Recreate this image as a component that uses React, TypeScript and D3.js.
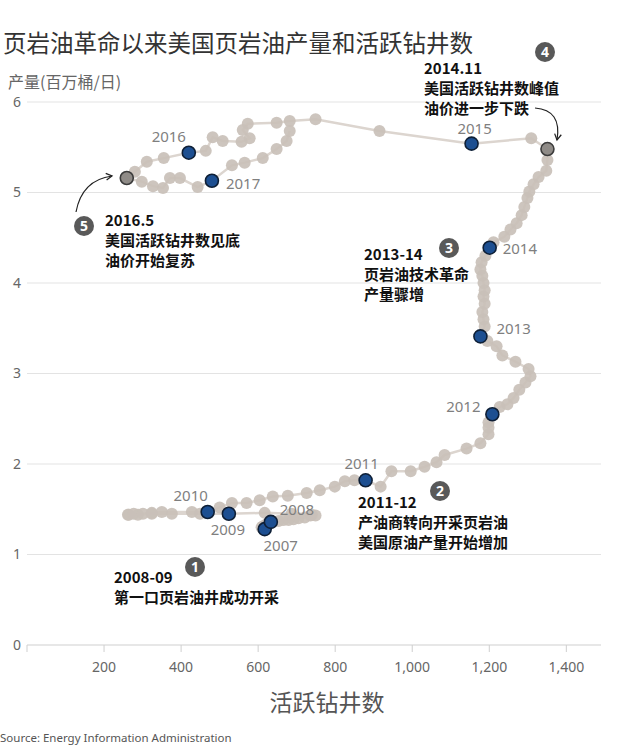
import React from "react";
import * as d3 from "d3";

// Monthly path of active shale rigs vs shale oil production (2007 -> 2017)
const rigs = [
  // 2007
  617, 615, 612, 609, 612, 617, 620, 622, 625, 625, 627, 630,
  // 2008
  633, 653, 666, 679, 692, 705, 721, 736, 749, 739, 687, 617,
  // 2009
  524, 449, 376, 324, 288, 264, 262, 277, 301, 324, 350, 428,
  // 2010
  469, 500, 532, 570, 604, 638, 677, 726, 760, 799, 825, 850,
  // 2011
  879, 918, 946, 996, 1032, 1063, 1084, 1141, 1177, 1198, 1198, 1198,
  // 2012
  1208, 1227, 1247, 1263, 1278, 1294, 1307, 1302, 1268, 1234, 1219, 1195,
  // 2013
  1177, 1188, 1185, 1182, 1188, 1185, 1188, 1185, 1182, 1177, 1180, 1190,
  // 2014
  1201, 1211, 1239, 1255, 1271, 1284, 1291, 1299, 1304, 1315, 1328, 1348, 1351, 1351, 1309,
  // 2015
  1154, 915, 749, 682, 648, 573, 560, 578, 557, 508, 482, 464,
  // 2016
  420, 355, 311, 280, 259, 298, 327, 353, 371, 397, 443,
  // 2017
  480, 532, 565, 612, 648, 674, 682,
];
const production = [
  1.28, 1.29, 1.3, 1.3, 1.31, 1.31, 1.33, 1.33, 1.34, 1.34, 1.35, 1.35,
  1.36, 1.37, 1.38, 1.38, 1.39, 1.4, 1.41, 1.43, 1.43, 1.44, 1.45, 1.46,
  1.45, 1.45, 1.45, 1.45, 1.44, 1.44, 1.44, 1.45, 1.45, 1.46, 1.47, 1.47,
  1.47, 1.52, 1.57, 1.57, 1.6, 1.64, 1.65, 1.68, 1.71, 1.75, 1.81, 1.82,
  1.82, 1.75, 1.92, 1.92, 1.97, 2.02, 2.1, 2.17, 2.23, 2.33, 2.4, 2.46,
  2.55, 2.63, 2.66, 2.73, 2.82, 2.9, 2.97, 3.05, 3.13, 3.2, 3.3, 3.36,
  3.41, 3.52, 3.6, 3.68, 3.77, 3.85, 3.92, 4.0, 4.08, 4.15, 4.23, 4.3,
  4.39, 4.45, 4.51, 4.59, 4.66, 4.75, 4.84, 4.94, 5.01, 5.09, 5.17, 5.24, 5.36, 5.48, 5.6,
  5.54, 5.68, 5.81, 5.79, 5.77, 5.76, 5.69, 5.6, 5.56, 5.57, 5.61, 5.46,
  5.44, 5.38, 5.34, 5.23, 5.16, 5.12, 5.07, 5.05, 5.16, 5.16, 5.06,
  5.13, 5.3, 5.33, 5.38, 5.48, 5.57, 5.68,
];

// January points that are highlighted
const keyYears = ["2007", "2008", "2009", "2010", "2011", "2012", "2013", "2014", "2015", "2016", "2017"];
const keyRigs = [617, 633, 524, 469, 879, 1208, 1177, 1201, 1154, 420, 480];
const keyProd = [1.28, 1.36, 1.45, 1.47, 1.82, 2.55, 3.41, 4.39, 5.54, 5.44, 5.13];

// Turning points (2014.11 peak, 2016.5 bottom)
const markerRigs = [1351, 259];
const markerProd = [5.48, 5.16];

const xTicks = [200, 400, 600, 800, 1000, 1200, 1400];
const yTicks = [0, 1, 2, 3, 4, 5, 6];

const title = "页岩油革命以来美国页岩油产量和活跃钻井数";
const yTitle = "产量(百万桶/日)";
const xTitle = "活跃钻井数";
const source = "Source: Energy Information Administration";

const annotations = [
  { num: "1", lines: ["2008-09", "第一口页岩油井成功开采"] },
  { num: "2", lines: ["2011-12", "产油商转向开采页岩油", "美国原油产量开始增加"] },
  { num: "3", lines: ["2013-14", "页岩油技术革命", "产量骤增"] },
  { num: "4", lines: ["2014.11", "美国活跃钻井数峰值", "油价进一步下跌"] },
  { num: "5", lines: ["2016.5", "美国活跃钻井数见底", "油价开始复苏"] },
];

// layout for annotations: circle position and text origin
const annoLayout = [
  { cx: 195, cy: 567, tx: 114, ty: 578 },
  { cx: 440, cy: 491, tx: 358, ty: 503 },
  { cx: 449, cy: 248, tx: 364, ty: 255 },
  { cx: 545, cy: 52, tx: 424, ty: 68.5 },
  { cx: 84, cy: 226, tx: 105, ty: 221 },
];

const yearOffsets: Record<string, [number, number, string]> = {
  "2007": [16, 17, "middle"],
  "2008": [26, -12, "middle"],
  "2009": [-1, 16, "middle"],
  "2010": [-17, -16, "middle"],
  "2011": [-4, -17, "middle"],
  "2012": [-29, -7, "middle"],
  "2013": [16, -8, "start"],
  "2014": [13, 1, "start"],
  "2015": [3, -14.5, "middle"],
  "2016": [-20, -16, "middle"],
  "2017": [14, 3, "start"],
};

const CJK = "'Noto Sans CJK SC', 'Noto Sans', sans-serif";
const LAT = "'Noto Sans', 'Noto Sans CJK SC', sans-serif";

export default function App() {
  const W = 642;
  const H = 756;
  const x = d3.scaleLinear().domain([0, 1490]).range([27, 601]);
  const y = d3.scaleLinear().domain([0, 6]).range([645, 102]);
  const pts: [number, number][] = rigs.map((r, i) => [r, production[i]]);
  const line = d3
    .line<[number, number]>()
    .x((d) => x(d[0]))
    .y((d) => y(d[1]));
  const fmt = d3.format(",");

  return (
    <svg
      width={W}
      height={H}
      style={{ position: "absolute", left: 0, top: 0, background: "#fff" }}
    >
      <defs>
        <marker id="arr" viewBox="0 0 10 10" refX="8" refY="5" markerWidth="7" markerHeight="7" orient="auto">
          <path d="M1,1 L8,5 L1,9" fill="none" stroke="#222" strokeWidth="1.5" />
        </marker>
      </defs>
      <rect width={W} height={H} fill="#fff" />
      <text x={3} y={52} fontFamily={CJK} fontSize={23.5} fill="#333">
        {title}
      </text>
      <text x={8} y={88} fontFamily={CJK} fontSize={16} fill="#666">
        {yTitle}
      </text>

      {/* gridlines */}
      {yTicks.map((t) => (
        <g key={t}>
          <line x1={27} x2={601} y1={y(t)} y2={y(t)} stroke={t === 0 ? "#cfcfcf" : "#e3e3e3"} strokeWidth={1} />
          <text x={17} y={y(t)} dy="0.35em" textAnchor="middle" fontFamily={LAT} fontSize={14} fill="#666">
            {t}
          </text>
        </g>
      ))}
      <line x1={27} x2={27} y1={645} y2={652} stroke="#cfcfcf" />
      {xTicks.map((t) => (
        <g key={t}>
          <line x1={x(t)} x2={x(t)} y1={645} y2={652} stroke="#cfcfcf" />
          <text x={x(t)} y={672} textAnchor="middle" fontFamily={LAT} fontSize={14} fill="#666">
            {fmt(t)}
          </text>
        </g>
      ))}
      <text x={327} y={711} textAnchor="middle" fontFamily={CJK} fontSize={23} fill="#555">
        {xTitle}
      </text>
      <text x={0} y={742} fontFamily={LAT} fontSize={11.5} fill="#555">
        {source}
      </text>

      {/* path */}
      <path d={line(pts) || ""} fill="none" stroke="#dcd5cf" strokeWidth={2.5} />
      {pts.map((d, i) => (
        <circle key={i} cx={x(d[0])} cy={y(d[1])} r={6} fill="#c9c0b8" opacity={0.92} />
      ))}
      {markerRigs.map((r, i) => (
        <circle key={"m" + i} cx={x(r)} cy={y(markerProd[i])} r={6.5} fill="#8f8b87" stroke="#3c3c3c" strokeWidth={1.6} />
      ))}
      {keyYears.map((yr, i) => {
        const [dx, dy, anchor] = yearOffsets[yr];
        const cx = x(keyRigs[i]);
        const cy = y(keyProd[i]);
        return (
          <g key={yr}>
            <circle cx={cx} cy={cy} r={6.5} fill="#1d4f91" stroke="#0e1f36" strokeWidth={1.6} />
            <text
              x={cx + dx}
              y={cy + dy}
              dy="0.35em"
              textAnchor={anchor}
              fontFamily={LAT}
              fontSize={15}
              fill="#7f7f7f"
            >
              {yr}
            </text>
          </g>
        );
      })}

      {/* annotations */}
      {annotations.map((a, i) => {
        const L = annoLayout[i];
        return (
          <g key={a.num}>
            <circle cx={L.cx} cy={L.cy} r={10} fill="#595959" />
            <text x={L.cx} y={L.cy} dy="0.36em" textAnchor="middle" fontFamily={LAT} fontWeight="bold" fontSize={14} fill="#fff">
              {a.num}
            </text>
            {a.lines.map((ln, j) => (
              <text
                key={j}
                x={L.tx}
                y={L.ty + j * 20}
                dy="0.36em"
                fontFamily={CJK}
                fontWeight="bold"
                fontSize={15}
                fill="#111"
              >
                {ln}
              </text>
            ))}
          </g>
        );
      })}
      <path d="M535,108 Q562,110 557,140" fill="none" stroke="#222" strokeWidth={1.2} markerEnd="url(#arr)" />
      <path d="M76,212 Q82,180 112,176" fill="none" stroke="#222" strokeWidth={1.2} markerEnd="url(#arr)" />
    </svg>
  );
}
